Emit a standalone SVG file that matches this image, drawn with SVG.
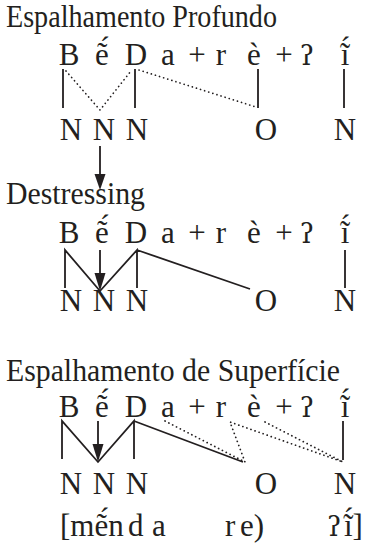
<svg xmlns="http://www.w3.org/2000/svg" width="368" height="548" viewBox="0 0 368 548">
<style>
text{font-family:'Liberation Serif','Times New Roman',serif;font-size:31px;fill:#231f20}
.g{font-family:'DejaVu Serif','Liberation Serif',serif;font-size:27px}
.l{stroke:#231f20;stroke-width:1.8;fill:none;stroke-linejoin:miter}
.d{stroke:#231f20;stroke-width:1.7;fill:none;stroke-dasharray:0.1 4.2;stroke-linecap:round}
.h{fill:#231f20}
</style>
<g id="titles">
<text x="6" y="27" textLength="271" lengthAdjust="spacingAndGlyphs">Espalhamento Profundo</text>
<text x="6" y="204" textLength="139" lengthAdjust="spacingAndGlyphs">Destressing</text>
<text x="6" y="381" textLength="334" lengthAdjust="spacingAndGlyphs">Espalhamento de Superfície</text>
</g>
<g id="row1" text-anchor="middle">
<text x="69" y="65">B</text><text x="102" y="65">ẽ́</text><text x="136" y="65">D</text><text x="168" y="65">a</text><text x="197" y="65">+</text><text x="221" y="65">r</text><text x="254" y="65">è</text><text x="284" y="65">+</text><text class="g" x="307" y="65">ʔ</text><text x="345" y="65">ĩ́</text>
</g>
<g id="nnn1" text-anchor="middle">
<text x="71" y="140">N</text><text x="104" y="140">N</text><text x="137" y="140">N</text><text x="266" y="140">O</text><text x="345" y="140">N</text>
</g>
<g id="row2" text-anchor="middle">
<text x="69" y="243">B</text><text x="102" y="243">ẽ́</text><text x="136" y="243">D</text><text x="168" y="243">a</text><text x="197" y="243">+</text><text x="221" y="243">r</text><text x="254" y="243">è</text><text x="284" y="243">+</text><text class="g" x="307" y="243">ʔ</text><text x="345" y="243">ĩ́</text>
</g>
<g id="nnn2" text-anchor="middle">
<text x="71" y="311">N</text><text x="104" y="311">N</text><text x="137" y="311">N</text><text x="266" y="311">O</text><text x="345" y="311">N</text>
</g>
<g id="row3" text-anchor="middle">
<text x="69" y="417">B</text><text x="102" y="417">ẽ́</text><text x="136" y="417">D</text><text x="168" y="417">a</text><text x="197" y="417">+</text><text x="221" y="417">r</text><text x="254" y="417">è</text><text x="284" y="417">+</text><text class="g" x="307" y="417">ʔ</text><text x="345" y="417">ĩ́</text>
</g>
<g id="nnn3" text-anchor="middle">
<text x="71" y="494">N</text><text x="104" y="494">N</text><text x="137" y="494">N</text><text x="266" y="494">O</text><text x="345" y="494">N</text>
</g>
<g id="surface">
<text x="60" y="536">[mẽ́n</text><text x="128" y="536">d</text><text x="152" y="536">a</text><text x="225" y="536">r</text><text x="240" y="536">e)</text><text class="g" x="327" y="536">ʔ</text><text x="344" y="536">ĩ́]</text>
</g>
<g id="connectors">
<path class="l" d="M63,69V108M135,69V108M258,69V108M344,69V108"/>
<path class="d" d="M66,71L100,110L131,71M139,70L256,107"/>
<path class="l" d="M100,146V176"/>
<path class="h" d="M94.5,174L105.5,174L100,190Z"/>
<path class="l" d="M65,288V250L100,291L137,250V288M137,250L250,289M345,250V288"/>
<path class="l" d="M100,250V275"/>
<path class="h" d="M94.5,273L105.5,273L100,291Z"/>
<path class="l" d="M62,459V421L98,462L134,421V459M134,421L243,462M343,421V460"/>
<path class="d" d="M165,421L245,462L230,422L343,462M265,422L343,462"/>
<path class="l" d="M98,421V446"/>
<path class="h" d="M92.5,444L103.5,444L98,462Z"/>
</g>
</svg>
